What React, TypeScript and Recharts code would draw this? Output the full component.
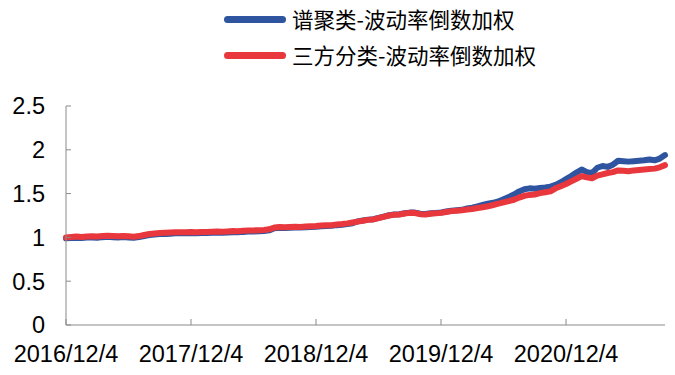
import { LineChart, Line, XAxis, YAxis } from "recharts";

if (typeof document !== "undefined") document.body.style.margin = "0";

const BLUE = "#2F55A0";
const RED = "#E8383D";

// 半月频率，起点 2016/12/4
const tickIdx = [0, 24, 48, 72, 96];
const tickLabels = ["2016/12/4", "2017/12/4", "2018/12/4", "2019/12/4", "2020/12/4"];
const yTicks = [0, 0.5, 1, 1.5, 2, 2.5];

const spectral = [
  0.99, 0.992, 0.997, 0.993, 0.998, 1.0, 0.997, 1.003, 1.006, 1.003,
  1.0, 1.004, 1.0, 0.996, 1.003, 1.016, 1.026, 1.033, 1.038, 1.04,
  1.043, 1.046, 1.048, 1.046, 1.05, 1.048, 1.051, 1.05, 1.053, 1.054,
  1.052, 1.056, 1.06, 1.058, 1.063, 1.066, 1.068, 1.07, 1.073, 1.08,
  1.104, 1.11, 1.107, 1.11, 1.114, 1.112, 1.117, 1.12, 1.122, 1.127,
  1.13, 1.132, 1.14, 1.144, 1.152, 1.162, 1.183, 1.193, 1.203, 1.208,
  1.223, 1.238, 1.253, 1.261, 1.265, 1.275, 1.283, 1.283, 1.27, 1.267,
  1.275, 1.28, 1.285, 1.295, 1.305, 1.31, 1.315, 1.33, 1.34, 1.355,
  1.37, 1.385, 1.395, 1.41, 1.435, 1.46, 1.49, 1.525, 1.55, 1.56,
  1.555, 1.565, 1.57, 1.58, 1.6, 1.63, 1.665, 1.7, 1.74, 1.775,
  1.745, 1.735, 1.795, 1.815, 1.805, 1.83, 1.875, 1.87, 1.865, 1.87,
  1.875, 1.88, 1.89, 1.88, 1.9, 1.94,
];

const threeWay = [
  1.0, 1.005, 1.01, 1.005, 1.01, 1.012, 1.01, 1.015, 1.018, 1.015,
  1.012, 1.016, 1.012, 1.008, 1.015, 1.028, 1.038, 1.045, 1.05, 1.052,
  1.055, 1.058, 1.06, 1.058, 1.062, 1.06, 1.063, 1.062, 1.065, 1.066,
  1.064, 1.068, 1.072, 1.07, 1.075, 1.078, 1.08, 1.082, 1.085, 1.092,
  1.112, 1.118, 1.115, 1.118, 1.122, 1.12, 1.125, 1.128, 1.13, 1.135,
  1.138, 1.14, 1.148, 1.152, 1.16, 1.17, 1.18, 1.19, 1.2, 1.205,
  1.22, 1.235, 1.25, 1.258, 1.262, 1.272, 1.28, 1.278, 1.265, 1.262,
  1.27, 1.275, 1.28, 1.29, 1.3, 1.305, 1.31, 1.318, 1.325, 1.335,
  1.345, 1.355, 1.37, 1.385, 1.4, 1.415, 1.43, 1.455, 1.475, 1.485,
  1.49, 1.505, 1.515, 1.525, 1.56, 1.585, 1.61, 1.64, 1.67, 1.7,
  1.685, 1.675, 1.705, 1.72, 1.735, 1.745, 1.765, 1.76, 1.755, 1.765,
  1.77, 1.775, 1.78, 1.785, 1.8, 1.825,
];

const data = spectral.map((v, i) => ({ i, spectral: v, threeWay: threeWay[i] }));

const legendItems = [
  { name: "谱聚类-波动率倒数加权", color: BLUE },
  { name: "三方分类-波动率倒数加权", color: RED },
];

const tickFont = { fontSize: 23.5, fill: "#000", fontFamily: "'Liberation Sans', Arial, sans-serif" };

export default function App() {
  return (
    <div style={{ position: "relative", width: 675, height: 375, background: "#fff" }}>
      <div style={{ position: "absolute", left: 224, top: 1, zIndex: 1 }}>
        {legendItems.map((it) => (
          <div key={it.name} style={{ display: "flex", alignItems: "center", height: 36 }}>
            <div style={{ width: 62, height: 7, borderRadius: 4, background: it.color, marginRight: 6 }} />
            <span style={{ fontSize: 21.5, fontFamily: "'Noto Sans CJK SC', sans-serif", color: "#000", lineHeight: "26px" }}>
              {it.name}
            </span>
          </div>
        ))}
      </div>
      <LineChart width={675} height={375} data={data} margin={{ top: 106, right: 10, left: 0, bottom: 0 }}>
        <XAxis
          dataKey="i"
          type="number"
          domain={[0, 115]}
          ticks={tickIdx}
          tickFormatter={(v: number) => tickLabels[tickIdx.indexOf(v)] ?? ""}
          height={50}
          tickSize={-6}
          tickMargin={26}
          stroke="#8a8a8a"
          tick={tickFont}
          interval={0}
        />
        <YAxis
          type="number"
          domain={[0, 2.5]}
          ticks={yTicks}
          width={66}
          tickSize={-5}
          tickMargin={26}
          stroke="#8a8a8a"
          tick={tickFont}
          interval={0}
        />
        <Line dataKey="spectral" stroke={BLUE} strokeWidth={6} strokeLinecap="round" strokeLinejoin="round" dot={false} isAnimationActive={false} />
        <Line dataKey="threeWay" stroke={RED} strokeWidth={6} strokeLinecap="round" strokeLinejoin="round" dot={false} isAnimationActive={false} />
      </LineChart>
    </div>
  );
}
